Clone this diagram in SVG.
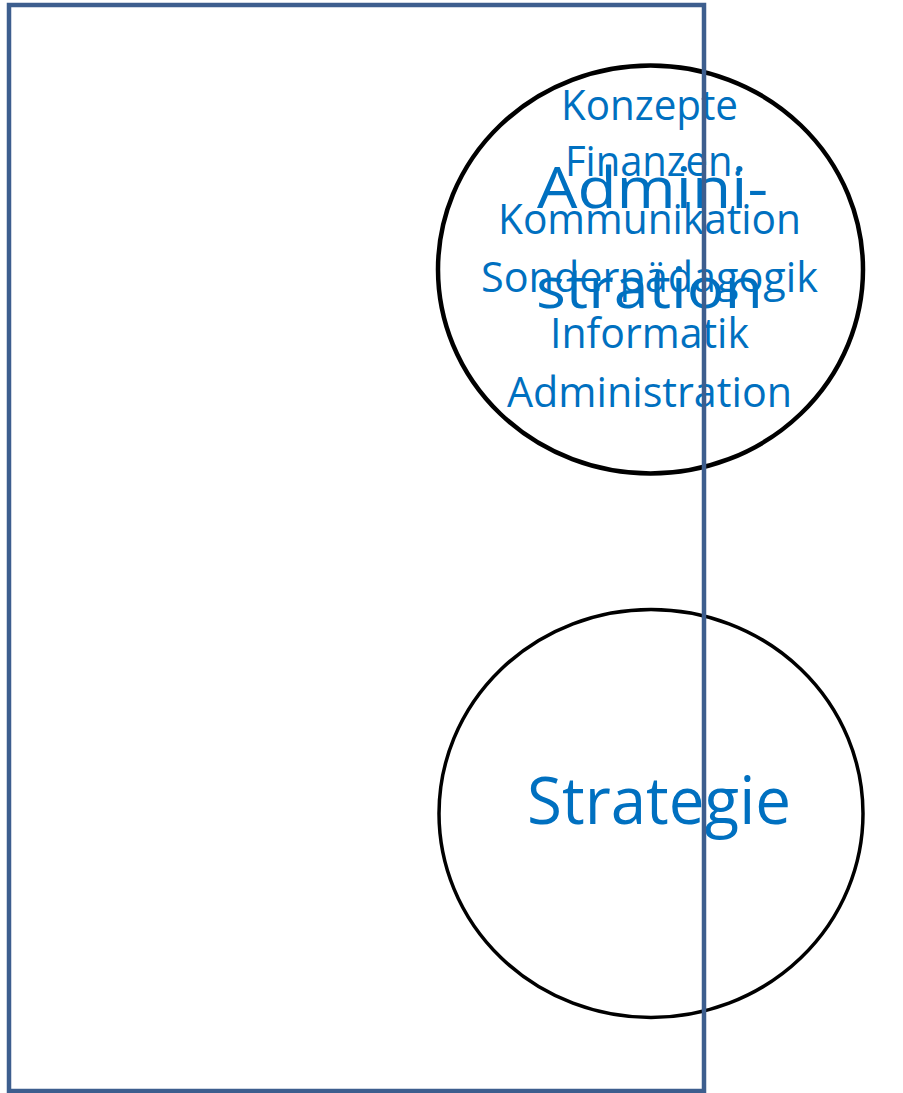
<svg xmlns="http://www.w3.org/2000/svg" width="903" height="1093" viewBox="0 0 903 1093">
<style>
.c{fill:none;stroke:#000;}
.t{font-family:"Open Sans","Noto Sans",sans-serif;fill:#0070C0;}
.s{font-size:42px;}
</style>
<rect width="903" height="1093" fill="#fff"/>
<g id="node-administration">
<ellipse class="c" cx="650.5" cy="269.5" rx="212.5" ry="204" stroke-width="4.5"/>
<text class="t" x="537" y="208" font-size="56" textLength="231" lengthAdjust="spacingAndGlyphs">Admini-</text>
<text class="t" x="536" y="308" font-size="56" textLength="227" lengthAdjust="spacingAndGlyphs">stration</text>
<text class="t s" x="561" y="120" textLength="177" lengthAdjust="spacingAndGlyphs">Konzepte</text>
<text class="t s" x="565" y="176" textLength="178" lengthAdjust="spacingAndGlyphs">Finanzen.</text>
<text class="t s" x="498" y="234" textLength="303" lengthAdjust="spacingAndGlyphs">Kommunikation</text>
<text class="t s" x="481" y="291.5" textLength="337" lengthAdjust="spacingAndGlyphs">Sonderpädagogik</text>
<text class="t s" x="550" y="348" textLength="199" lengthAdjust="spacingAndGlyphs">Informatik</text>
<text class="t s" x="507" y="406.5" textLength="285" lengthAdjust="spacingAndGlyphs">Administration</text>
</g>
<g id="node-strategie">
<ellipse class="c" cx="651" cy="813.5" rx="212" ry="204" stroke-width="3.5"/>
<text class="t" x="527" y="824" font-size="66" textLength="264" lengthAdjust="spacingAndGlyphs">Strategie</text>
</g>
<g id="frame">
<rect x="9" y="5" width="695" height="1086" fill="none" stroke="#3D5E8E" stroke-width="4.5"/>
</g>
<g id="connectors"></g>
</svg>
